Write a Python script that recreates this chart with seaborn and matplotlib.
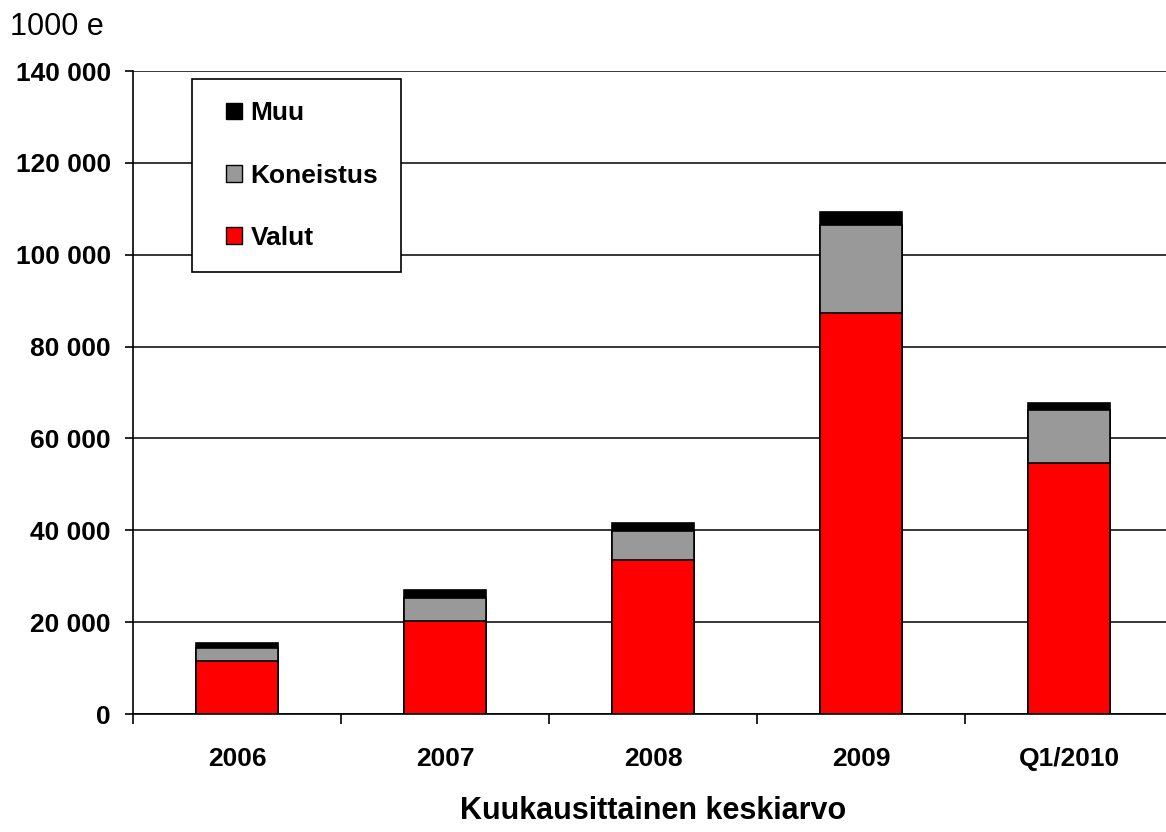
import pandas as pd
import numpy as np
import matplotlib
matplotlib.use("Agg")
import matplotlib.pyplot as plt
import seaborn as sns
from matplotlib.patches import Patch, Rectangle
from matplotlib.legend_handler import HandlerPatch
from matplotlib.ticker import FuncFormatter, FixedLocator

# data (1000 e, monthly average)
categories = ["2006", "2007", "2008", "2009", "Q1/2010"]
valut = [11500, 20200, 33500, 87400, 54700]
koneistus = [2900, 5100, 6300, 19100, 11500]
muu = [1000, 1700, 1800, 2700, 1600]

df = pd.DataFrame({"kausi": categories, "Valut": valut,
                   "Koneistus": koneistus, "Muu": muu})
df["vk"] = df["Valut"] + df["Koneistus"]
df["total"] = df["vk"] + df["Muu"]

sns.set_style("white", {"text.color": "black", "axes.labelcolor": "black",
                        "xtick.color": "black", "ytick.color": "black"})
plt.rcParams["font.family"] = ["Liberation Sans", "DejaVu Sans"]

fig = plt.figure(figsize=(11.66, 8.32), dpi=100)
ax = fig.add_axes([133 / 1166, 1 - 714 / 832, 1040 / 1166, 643 / 832])

ax.set_axisbelow(True)
ax.yaxis.grid(True, color="black", linewidth=1.1)

w = 0.394
# stacked bars drawn as overlapping cumulative totals
sns.barplot(data=df, x="kausi", y="total", color="black", width=w,
            edgecolor="black", linewidth=1.2, saturation=1, ax=ax)
sns.barplot(data=df, x="kausi", y="vk", color="#999999", width=w,
            edgecolor="black", linewidth=1.2, saturation=1, ax=ax)
sns.barplot(data=df, x="kausi", y="Valut", color="#ff0000", width=w,
            edgecolor="black", linewidth=1.2, saturation=1, ax=ax)

ax.set_xlim(-0.5, 4.5)
ax.set_ylim(0, 140000)
ax.set_yticks(np.arange(0, 140001, 20000))
ax.yaxis.set_major_formatter(FuncFormatter(lambda v, p: f"{int(v):,}".replace(",", " ")))

ax.xaxis.set_minor_locator(FixedLocator(np.arange(-0.5, 4.6, 1)))
ax.tick_params(axis="x", which="major", length=0, pad=24, labelsize=19, labelcolor="black")
ax.tick_params(axis="x", which="minor", length=7.5, width=1.2, color="black", direction="out", bottom=True)
ax.tick_params(axis="y", length=6, width=1.2, color="black", direction="out", left=True,
               labelsize=19, pad=10, labelcolor="black")
for lbl in ax.get_xticklabels() + ax.get_yticklabels():
    lbl.set_fontweight("bold")

for s in ["top", "right"]:
    ax.spines[s].set_visible(False)
for s in ["left", "bottom"]:
    ax.spines[s].set_color("black")
    ax.spines[s].set_linewidth(1.2)

ax.set_xlabel("Kuukausittainen keskiarvo", fontsize=22, fontweight="bold", labelpad=18, color="black")
ax.set_ylabel("")
fig.text(10 / 1166, 1 - 12 / 832, "1000 e", fontsize=22, va="top", ha="left", color="black")


# small square legend keys pushed to the right of the handle box
def square_key(legend, orig_handle, xdescent, ydescent, width, height, fontsize):
    return Rectangle((-xdescent + width - height, -ydescent), height, height)


handles = [Patch(facecolor="black", edgecolor="black", label="Muu"),
           Patch(facecolor="#999999", edgecolor="black", label="Koneistus"),
           Patch(facecolor="#ff0000", edgecolor="black", label="Valut")]
leg = ax.legend(handles=handles, loc="upper left",
                bbox_to_anchor=(192 / 1166, 1 - 79 / 832), bbox_transform=fig.transFigure,
                prop={"size": 19, "weight": "bold"}, frameon=True, fancybox=False, framealpha=1,
                edgecolor="black", handlelength=1.06, handleheight=0.58,
                handletextpad=0.3, labelspacing=1.45, borderpad=0.85,
                borderaxespad=0, labelcolor="black",
                handler_map={Patch: HandlerPatch(patch_func=square_key)})
leg.get_frame().set_linewidth(1.2)

fig.savefig("out.png", dpi=100)
